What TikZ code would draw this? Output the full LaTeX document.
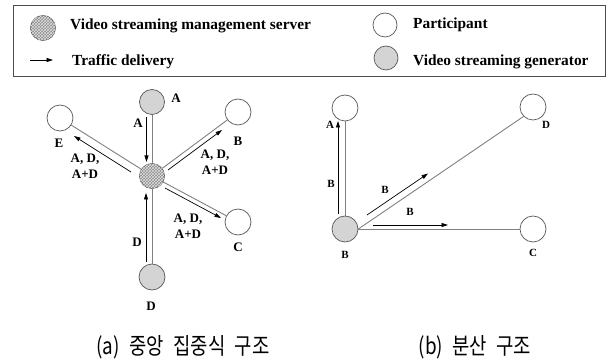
\documentclass[tikz,border=0pt]{standalone}
\usepackage{fontspec}
\setmainfont{Liberation Serif}
\newfontfamily\krfont{Noto Sans CJK KR}
\usetikzlibrary{arrows.meta,patterns}

\begin{document}
\begin{tikzpicture}[x=1pt,y=-1pt,
  site/.style={circle,draw=black!65,line width=0.7pt,minimum size=25pt,inner sep=0pt},
  participant/.style={site,fill=white},
  generator/.style={site,fill=black!17},
  server/.style={site,fill=black!45,postaction={pattern=crosshatch,pattern color=black!12}},
  link/.style={draw=black!50,line width=0.9pt},
  flow/.style={draw=black,line width=0.7pt,-{Triangle[length=6.5pt,width=4pt]}},
  lbla/.style={font=\fontsize{13}{16.5}\selectfont\bfseries,inner sep=0pt,align=center},
  lblb/.style={font=\fontsize{11}{12}\selectfont\bfseries,inner sep=0pt},
  legtext/.style={font=\fontsize{15.4}{17}\selectfont\bfseries,inner sep=0pt,anchor=base west},
  capt/.style={font=\krfont\fontsize{23}{26}\selectfont,inner sep=0pt,xscale=0.82}
]
\useasboundingbox (0,0) rectangle (608,363);

% ---------- legend ----------
\draw[black!70,line width=0.8pt] (13,5) rectangle (605,76);
\node[server] (legsrv) at (43,28) {};
\node[legtext] (legsrvt) at (70,30) {Video streaming management server};
\node[participant,minimum size=24pt] (legpart) at (385,25) {};
\node[legtext] (legpartt) at (413,29) {Participant};
\coordinate (legarr1) at (30,60);
\coordinate (legarr2) at (53,60);
\draw[flow] (legarr1) -- (legarr2);
\node[legtext] (legarrt) at (72,66) {Traffic delivery};
\node[generator,minimum size=24pt] (leggen) at (386,58) {};
\node[legtext] (leggent) at (413,66) {Video streaming generator};

% ---------- (a) centralised structure ----------
\node[server] (srv) at (152,176) {};
\node[generator] (gA) at (152,102) {};
\node[generator,minimum size=26pt] (gD) at (152,277) {};
\node[participant,minimum size=26pt] (pB) at (238,112) {};
\node[participant,minimum size=26pt] (pE) at (60,118) {};
\node[participant,minimum size=26pt] (pC) at (238,222) {};

\draw[link] (gA) -- (srv);
\draw[link] (gD) -- (srv);
\draw[link] (srv) -- (pB);
\draw[link] (srv) -- (pE);
\draw[link] (srv) -- (pC);

\coordinate (aA1) at (146.5,117);  \coordinate (aA2) at (146.5,162);
\coordinate (aD1) at (146,262);    \coordinate (aD2) at (146,193);
\coordinate (aE1) at (131,172);    \coordinate (aE2) at (74,136);
\coordinate (aB1) at (168,170);    \coordinate (aB2) at (222,130);
\coordinate (aC1) at (165,188);    \coordinate (aC2) at (221,218);
\draw[flow] (aA1) -- (aA2);
\draw[flow] (aD1) -- (aD2);
\draw[flow] (aE1) -- (aE2);
\draw[flow] (aB1) -- (aB2);
\draw[flow] (aC1) -- (aC2);

\node[lbla] (tA) at (176,98) {A};
\node[lbla] (tB) at (238,141) {B};
\node[lbla] (tE) at (59,143) {E};
\node[lbla] (tC) at (238,247) {C};
\node[lbla] (tD) at (151,306) {D};
\node[lbla] (fA) at (138,123) {A};
\node[lbla] (fD) at (137,242) {D};
\node[lbla] (fE) at (85,166) {A, D,\\A+D};
\node[lbla] (fB) at (215,162) {A, D,\\A+D};
\node[lbla] (fC) at (188,226) {A, D,\\A+D};

% ---------- (b) distributed structure ----------
\node[generator,minimum size=26pt] (gB) at (345,229) {};
\node[participant,minimum size=26pt] (qA) at (345,108) {};
\node[participant,minimum size=26pt] (qD) at (533,107) {};
\node[participant,minimum size=26pt] (qC) at (533,229) {};

\draw[link] (gB) -- (qA);
\draw[link] (gB.east) -- (qD.south west);
\draw[link] (gB.east) -- (qC.west);

\coordinate (bA1) at (338,214);  \coordinate (bA2) at (338,121);
\coordinate (bD1) at (367,215);  \coordinate (bD2) at (428,173.5);
\coordinate (bC1) at (373,225);  \coordinate (bC2) at (448,225);
\draw[flow] (bA1) -- (bA2);
\draw[flow] (bD1) -- (bD2);
\draw[flow] (bC1) -- (bC2);

\node[lblb] (uA) at (330,125) {A};
\node[lblb] (uD) at (546,125) {D};
\node[lblb] (uC) at (533,253) {C};
\node[lblb] (uB) at (345,255) {B};
\node[lblb] (gAlbl) at (331,184) {B};
\node[lblb] (gDlbl) at (385,190) {B};
\node[lblb] (gClbl) at (410,212) {B};

% ---------- captions ----------
\node[capt] (capa) at (183,347) {(a)\hspace{0.5em}중앙\hspace{0.5em}집중식\hspace{0.5em}구조};
\node[capt] (capb) at (475,347) {(b)\hspace{0.5em}분산\hspace{0.5em}구조};
\end{tikzpicture}
\end{document}
